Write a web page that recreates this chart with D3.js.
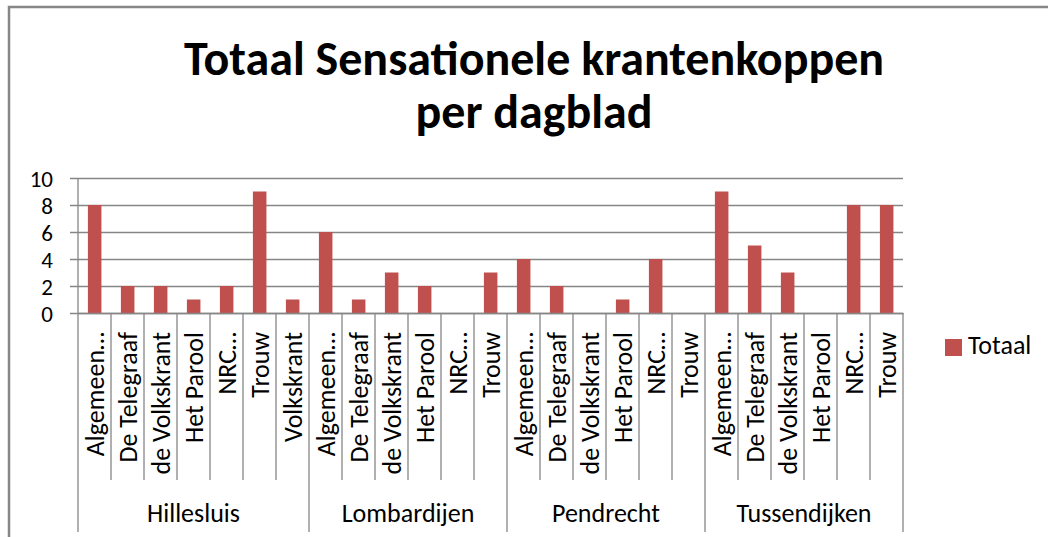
<!DOCTYPE html>
<html>
<head>
<meta charset="utf-8">
<script src="https://cdn.jsdelivr.net/npm/d3@7"></script>
<style>
  body { margin: 0; background: #fff; }
  svg text { font-family: Calibri, Carlito, Lato, sans-serif; fill: #000; }
</style>
</head>
<body>
<svg id="chart" width="1048" height="537"></svg>
<script>
// regions (outer axis level) and the papers within each region
var regions = ["Hillesluis", "Lombardijen", "Pendrecht", "Tussendijken"];
var papers = [
    ["Algemeen…", "De Telegraaf", "de Volkskrant", "Het Parool", "NRC…", "Trouw", "Volkskrant"],
    ["Algemeen…", "De Telegraaf", "de Volkskrant", "Het Parool", "NRC…", "Trouw"],
    ["Algemeen…", "De Telegraaf", "de Volkskrant", "Het Parool", "NRC…", "Trouw"],
    ["Algemeen…", "De Telegraaf", "de Volkskrant", "Het Parool", "NRC…", "Trouw"]
];
var totaal = [
    [8, 2, 2, 1, 2, 9, 1],
    [6, 1, 3, 2, 0, 3],
    [4, 2, 0, 1, 4, 0],
    [9, 5, 3, 0, 8, 8]
];
var yTicks = [0, 2, 4, 6, 8, 10];
var titleLines = ["Totaal Sensationele krantenkoppen", "per dagblad"];
var seriesName = "Totaal";

var svg = d3.select("#chart"),
    margin = {top: 178, left: 78, right: 145, bottom: 224},
    width = +svg.attr("width") - margin.left - margin.right,
    height = +svg.attr("height") - margin.top - margin.bottom;

var barColor = "#C0504D", lineColor = "#868686";

// flatten into one row per bar
var rows = [];
regions.forEach(function (r, i) {
    papers[i].forEach(function (p, j) {
        rows.push({key: r + "|" + p, region: r, paper: p, value: totaal[i][j], first: j === 0});
    });
});

var x = d3.scaleBand().domain(rows.map(function (d) { return d.key; })).range([0, width]).padding(0),
    y = d3.scaleLinear().domain([0, 10]).range([height, 0]);

// outer border of the chart area
svg.append("rect")
    .attr("x", 9).attr("y", 7)
    .attr("width", 1048).attr("height", 540)
    .attr("fill", "none").attr("stroke", lineColor).attr("stroke-width", 2.5);

var title = svg.append("text")
    .attr("text-anchor", "middle")
    .style("font-weight", "bold")
    .style("font-size", "48px");
title.selectAll("tspan").data(titleLines).enter().append("tspan")
    .attr("x", 534)
    .attr("y", function (d, i) { return 75 + i * 53; })
    .text(function (d) { return d; });

var g = svg.append("g").attr("transform", "translate(" + margin.left + "," + margin.top + ")");

// y axis with gridlines
var yAxis = d3.axisLeft(y).tickValues(yTicks).tickSize(-width).tickPadding(25);
g.append("g").attr("class", "axis axis--y").call(yAxis)
    .call(function (a) {
        a.select(".domain").remove();
        a.selectAll(".tick line").attr("x1", -8).attr("stroke", lineColor).attr("stroke-width", 1.3);
        a.selectAll(".tick text").style("font-size", "23px").attr("dy", "0.36em");
    });

// bars
g.selectAll(".bar").data(rows).enter().append("rect")
    .attr("class", "bar")
    .attr("x", function (d) { return x(d.key) + x.bandwidth() * 0.3; })
    .attr("width", x.bandwidth() * 0.41)
    .attr("y", function (d) { return y(d.value); })
    .attr("height", function (d) { return height - y(d.value); })
    .attr("fill", barColor);

// vertical axis line
g.append("line")
    .attr("x1", 0).attr("x2", 0).attr("y1", 0).attr("y2", height)
    .attr("stroke", lineColor).attr("stroke-width", 1.3);

// category axis: ticks between bars, longer ticks between regions
var xAxis = d3.axisBottom(x).tickSize(0).tickFormat(function (k) { return k.split("|")[1]; });
var xg = g.append("g").attr("class", "axis axis--x")
    .attr("transform", "translate(0," + height + ")")
    .call(xAxis);
xg.select(".domain").attr("stroke", lineColor).attr("stroke-width", 1.3);
xg.selectAll(".tick text")
    .style("font-size", "26px")
    .attr("text-anchor", "end")
    .attr("transform", "rotate(-90)")
    .attr("x", -19).attr("y", 0)
    .attr("dy", "0.36em");

var bounds = rows.map(function (d) { return {pos: x(d.key), major: d.first}; });
bounds.push({pos: width, major: true});
xg.selectAll(".sep").data(bounds).enter().append("line")
    .attr("class", "sep")
    .attr("x1", function (d) { return d.pos; }).attr("x2", function (d) { return d.pos; })
    .attr("y1", 0)
    .attr("y2", function (d) { return d.major ? 219 : 167; })
    .attr("stroke", lineColor).attr("stroke-width", 1.3);

// region labels
var start = 0;
var regionPos = regions.map(function (r, i) {
    var a = start, b = start + papers[i].length;
    start = b;
    return {name: r, x: (x(rows[a].key) + (b < rows.length ? x(rows[b].key) : width)) / 2};
});
xg.selectAll(".region").data(regionPos).enter().append("text")
    .attr("class", "region")
    .attr("x", function (d) { return d.x; })
    .attr("y", 209)
    .attr("text-anchor", "middle")
    .style("font-size", "26px")
    .text(function (d) { return d.name; });

// legend
var legend = svg.append("g").attr("transform", "translate(945,339)");
legend.append("rect").attr("width", 17).attr("height", 17).attr("fill", barColor);
legend.append("text").attr("x", 23).attr("y", 15).style("font-size", "26px").text(seriesName);
</script>
</body>
</html>
